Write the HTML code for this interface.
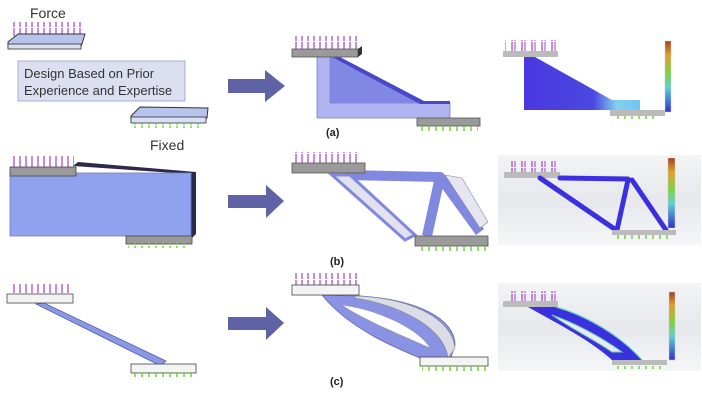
<!DOCTYPE html>
<html><head><meta charset="utf-8"><style>
html,body{margin:0;padding:0;background:#fff;width:702px;height:402px;overflow:hidden}
svg{display:block}
text{font-family:"Liberation Sans",sans-serif}
</style></head><body>
<svg width="702" height="402" viewBox="0 0 702 402" xmlns="http://www.w3.org/2000/svg">
<defs>
<pattern id="pf" width="6" height="14" patternUnits="userSpaceOnUse"><line x1="2" y1="0" x2="2" y2="13" stroke="#a040c8" stroke-width="1.2"/></pattern>
<pattern id="ps" width="10" height="14" patternUnits="userSpaceOnUse"><line x1="2" y1="0" x2="2" y2="13" stroke="#a040c8" stroke-width="1.2"/><line x1="5" y1="0" x2="5" y2="13" stroke="#a040c8" stroke-width="1"/></pattern>
<pattern id="gf" width="7" height="6" patternUnits="userSpaceOnUse"><line x1="2" y1="0" x2="2" y2="5" stroke="#6fd040" stroke-width="1.5"/></pattern>
<linearGradient id="cb" x1="0" y1="0" x2="0" y2="1"><stop offset="0" stop-color="#a04020"/><stop offset=".2" stop-color="#e0a030"/><stop offset=".45" stop-color="#80d040"/><stop offset=".65" stop-color="#60d0d0"/><stop offset="1" stop-color="#3030d0"/></linearGradient>
<linearGradient id="bg" x1="0" y1="0" x2="0" y2="1"><stop offset="0" stop-color="#f4f4f6"/><stop offset=".5" stop-color="#e6e8ec"/><stop offset="1" stop-color="#f6f6f8"/></linearGradient>
<linearGradient id="ta" x1="0" y1="0" x2="1" y2="0"><stop offset="0" stop-color="#4a38e0"/><stop offset=".6" stop-color="#4a48e0"/><stop offset=".8" stop-color="#80d0f0"/><stop offset="1" stop-color="#70c8f0"/></linearGradient>
</defs>

<!-- Row a left -->
<text x="30" y="18" font-size="14" fill="#333">Force</text>
<rect x="10" y="22" width="72" height="14" fill="url(#pf)"/>
<polygon points="8,42 18,34 85,34 82,44 80,48 8,48" fill="#b8c4ee" stroke="#333" stroke-width="1"/>
<rect x="8" y="44" width="73" height="5" fill="#d8e0f4" stroke="#333" stroke-width=".8"/>
<rect x="18" y="61" width="167" height="40" fill="#dcdff0" stroke="#a8acd8" stroke-width="1"/>
<text x="24" y="78" font-size="13" fill="#333">Design Based on Prior</text>
<text x="24" y="95" font-size="13" fill="#333">Experience and Expertise</text>
<polygon points="131,116 140,107 208,108 207,118 131,122" fill="#b8c4ee" stroke="#333" stroke-width="1"/>
<rect x="131" y="117" width="75" height="6" fill="#d8e0f4" stroke="#333" stroke-width=".8"/>
<rect x="132" y="123" width="70" height="5" fill="url(#gf)"/>
<text x="150" y="150" font-size="14" fill="#333">Fixed</text>

<!-- arrows -->
<polygon points="228,79 265,79 265,70 285,86 265,102 265,93 228,93" fill="#5f63a6"/>
<polygon points="228,195 266,195 266,185 284,201 266,218 266,208 228,208" fill="#5f63a6"/>
<polygon points="228,317 266,317 266,307 284,323 266,340 266,330 228,330" fill="#5f63a6"/>

<!-- Row a middle -->
<rect x="294" y="36" width="64" height="13" fill="url(#pf)"/>
<polygon points="317,56 330,56 330,103 450,103 450,118 317,118" fill="#b0b4f0" stroke="#7a80c8" stroke-width=".8"/>
<polygon points="330,56 420,103 330,103" fill="#8088e4"/>
<polygon points="330,56 338,56 424,101 420,104" fill="#4a48c8"/>
<polygon points="420,101 450,101 450,104 420,104" fill="#4a48c8"/>
<rect x="292" y="49" width="66" height="8" fill="#9a9a9a" stroke="#555" stroke-width=".8"/>
<polygon points="358,49 362,46 362,54 358,57" fill="#333"/>
<rect x="417" y="118" width="63" height="8" fill="#9a9a9a" stroke="#555" stroke-width=".8"/>
<rect x="420" y="126" width="58" height="5" fill="url(#gf)"/>
<text x="326" y="136" font-size="11" font-weight="bold" fill="#222">(a)</text>

<!-- Row a right -->
<rect x="505" y="40" width="52" height="11" fill="url(#ps)"/>
<rect x="503" y="51" width="55" height="6" fill="#bbb"/>
<polygon points="524,57 535,57 612,100 640,100 640,110 524,110" fill="url(#ta)"/>
<rect x="610" y="110" width="55" height="6" fill="#bbb"/>
<rect x="612" y="116" width="45" height="4" fill="url(#gf)"/>
<rect x="665" y="41" width="6" height="71" fill="url(#cb)" stroke="#ccc" stroke-width=".5"/>

<!-- Row b left -->
<rect x="12" y="156" width="62" height="11" fill="url(#pf)"/>
<polygon points="73,166 78,162 196,172 196,234 190,240 190,174" fill="#2a2a4a"/>
<rect x="10" y="173" width="181" height="63" fill="#90a2ee" stroke="#7080c0" stroke-width=".8"/>
<rect x="10" y="167" width="66" height="9" fill="#9a9a9a" stroke="#444" stroke-width=".8"/>
<rect x="126" y="236" width="66" height="8" fill="#9a9a9a" stroke="#444" stroke-width=".8"/>
<rect x="128" y="243" width="60" height="5" fill="url(#gf)"/>

<!-- Row b middle -->
<rect x="294" y="152" width="66" height="12" fill="url(#pf)"/>
<g stroke="#8088e0" stroke-width="10" fill="none" stroke-linejoin="round">
<polyline points="345,175 440,177 480,232"/>
<line x1="440" y1="177" x2="427" y2="236"/>
</g>
<polygon points="332,175 350,175 415,235 405,240" fill="#e2e2ee" stroke="#8088e0" stroke-width="3"/>
<polygon points="445,175 462,178 488,222 480,228" fill="#e6e6f2" stroke="#888" stroke-width=".6"/>
<rect x="292" y="163" width="73" height="10" fill="#9a9a9a" stroke="#555" stroke-width=".8"/>
<rect x="415" y="236" width="73" height="10" fill="#9a9a9a" stroke="#555" stroke-width=".8"/>
<rect x="417" y="246" width="70" height="5" fill="url(#gf)"/>
<text x="330" y="265" font-size="11" font-weight="bold" fill="#222">(b)</text>

<!-- Row b right -->
<rect x="498" y="155" width="203" height="90" fill="url(#bg)"/>
<rect x="506" y="161" width="52" height="12" fill="url(#ps)"/>
<rect x="504" y="172" width="56" height="6" fill="#bbb"/>
<g stroke="#3a30e0" stroke-width="5" fill="none" stroke-linecap="round">
<line x1="540" y1="178" x2="616" y2="230"/>
<line x1="560" y1="178" x2="628" y2="179"/>
<line x1="628" y1="180" x2="617" y2="230"/>
<line x1="632" y1="180" x2="666" y2="230"/>
</g>
<rect x="612" y="230" width="64" height="5" fill="#bbb"/>
<rect x="614" y="235" width="55" height="4" fill="url(#gf)"/>
<rect x="668" y="158" width="7" height="70" fill="url(#cb)" stroke="#ccc" stroke-width=".5"/>

<!-- Row c left -->
<rect x="9" y="284" width="64" height="10" fill="url(#pf)"/>
<polygon points="36,304 44,303 166,361 161,366" fill="#8c98e4" stroke="#5060b0" stroke-width=".8"/>
<rect x="7" y="294" width="66" height="9" fill="#f4f4f4" stroke="#444" stroke-width=".8"/>
<rect x="131" y="364" width="65" height="9" fill="#f4f4f4" stroke="#444" stroke-width=".8"/>
<rect x="134" y="372" width="60" height="5" fill="url(#gf)"/>

<!-- Row c middle -->
<rect x="294" y="273" width="66" height="12" fill="url(#pf)"/>
<path d="M322,295 L360,296 C420,300 455,320 455,345 L450,360 L430,362 C400,350 350,330 322,295 Z" fill="#8a92e4" stroke="#6a70c0"/>
<path d="M355,296 C410,298 452,318 455,348 L448,358 C445,330 405,306 355,298 Z" fill="#dcdce6" stroke="#888" stroke-width=".6"/>
<path d="M342,305 C380,310 420,330 430,348 C400,335 360,318 342,305 Z" fill="#fff" stroke="#999" stroke-width=".6"/>
<rect x="292" y="285" width="67" height="10" fill="#f4f4f4" stroke="#444" stroke-width=".8"/>
<rect x="420" y="357" width="68" height="9" fill="#f4f4f4" stroke="#444" stroke-width=".8"/>
<rect x="422" y="366" width="66" height="5" fill="url(#gf)"/>
<text x="330" y="385" font-size="11" font-weight="bold" fill="#222">(c)</text>

<!-- Row c right -->
<rect x="498" y="283" width="203" height="88" fill="url(#bg)"/>
<rect x="506" y="291" width="52" height="11" fill="url(#ps)"/>
<rect x="503" y="301" width="55" height="6" fill="#bbb"/>
<path d="M528,307 L556,307 C585,315 620,335 642,360 L612,360 C590,340 560,325 528,307 Z" fill="#3a30e0"/>
<path d="M552,315 C580,325 605,340 622,352 L612,352 C595,340 570,328 552,315 Z" fill="#e8eaf0" stroke="#70d0a0" stroke-width="1"/>
<path d="M556,307 C585,315 620,335 642,360" fill="none" stroke="#70d8c0" stroke-width="1.2"/>
<rect x="612" y="360" width="55" height="5" fill="#bbb"/>
<rect x="614" y="365" width="52" height="4" fill="url(#gf)"/>
<rect x="669" y="292" width="6" height="68" fill="url(#cb)" stroke="#ccc" stroke-width=".5"/>
</svg>
</body></html>
